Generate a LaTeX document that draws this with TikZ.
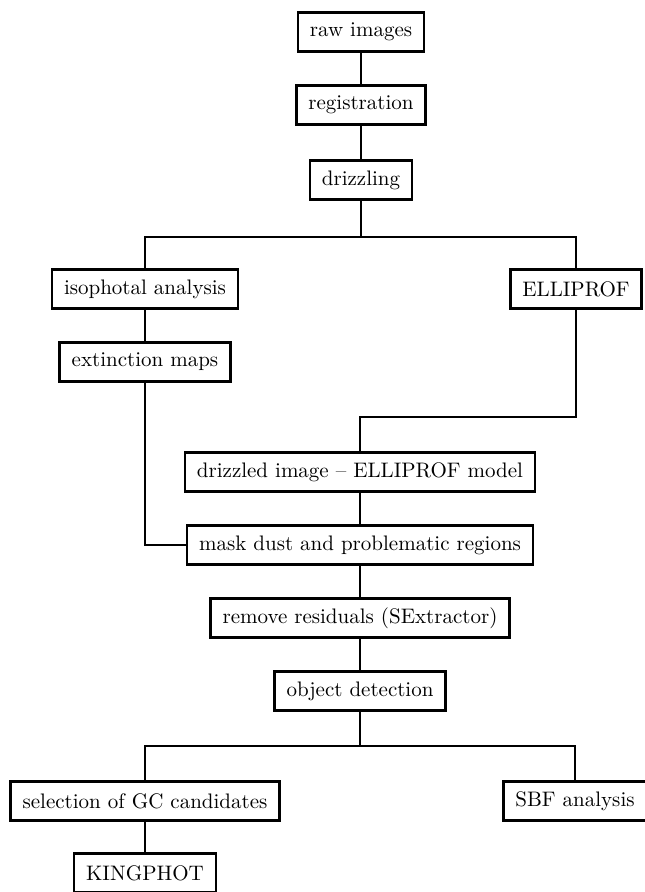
\documentclass[tikz,border=0pt]{standalone}
\usetikzlibrary{positioning}

\begin{document}
\begin{tikzpicture}[
    x=0.5pt, y=-0.5pt,
    box/.style={draw, line width=1.3pt, fill=white, align=center, inner xsep=6pt, minimum height=19.5pt, font=\fontsize{10.5}{12}\selectfont},
    link/.style={line width=1pt}
  ]
    \useasboundingbox (0,0) rectangle (644,892);
    % main chain
    \node[box] (raw) at (361,32) {raw images};
    \node[box] (reg) at (361,105) {registration};
    \node[box] (drz) at (361,180) {drizzling};
    \node[box] (iso) at (145,289) {isophotal analysis};
    \node[box] (ell) at (576,289) {ELLIPROF};
    \node[box] (ext) at (145,362) {extinction maps};
    \node[box] (dmod) at (360,472) {drizzled image -- ELLIPROF model};
    \node[box] (mask) at (360,545) {mask dust and problematic regions};
    \node[box] (rem) at (360,618) {remove residuals (SExtractor)};
    \node[box] (obj) at (360,691) {object detection};
    \node[box] (sel) at (145,801) {selection of GC candidates};
    \node[box] (sbf) at (575,801) {SBF analysis};
    \node[box] (king) at (145,873) {KINGPHOT};
    \coordinate (split1) at (361,237);
    \coordinate (elbow) at (360,417);
    \coordinate (split2) at (360,746);
    \draw[link] (raw) -- (reg);
    \draw[link] (reg) -- (drz);
    \draw[link] (drz) -- (split1);
    \draw[link] (iso.north) |- (split1) -| (ell.north);
    \draw[link] (iso) -- (ext);
    \draw[link] (ell.south) |- (elbow) -- (dmod.north);
    \draw[link] (ext.south) |- (mask.west);
    \draw[link] (dmod) -- (mask);
    \draw[link] (mask) -- (rem);
    \draw[link] (rem) -- (obj);
    \draw[link] (obj) -- (split2);
    \draw[link] (sel.north) |- (split2) -| (sbf.north);
    \draw[link] (sel) -- (king);
  \end{tikzpicture}
\end{document}
